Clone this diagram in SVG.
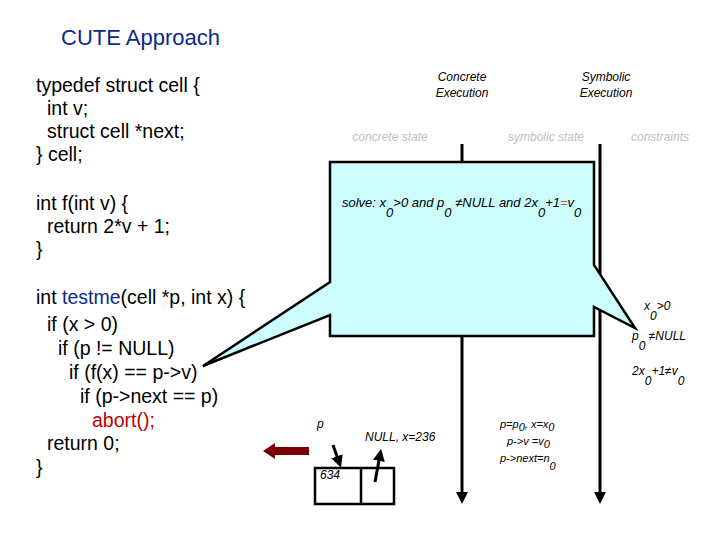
<svg xmlns="http://www.w3.org/2000/svg" width="720" height="540" viewBox="0 0 720 540">
<style>
.code{font-family:"Liberation Sans",Arial,sans-serif;font-size:19.5px;fill:#000}
.red{fill:#c00000}
.blue{fill:#0b2a8a}
.it{font-family:"Liberation Sans",Arial,sans-serif;font-size:12px;font-style:italic;fill:#000}
.big{font-size:13px}
.sm{font-size:11px}
.gray{font-family:"Liberation Sans",Arial,sans-serif;font-size:12px;font-style:italic;fill:#c0c0c0}
.ln{stroke:#000;stroke-width:3;fill:none}
</style>
<defs>
<marker id="ah" markerWidth="4" markerHeight="4" refX="2" refY="2" orient="auto" markerUnits="strokeWidth"><path d="M0,0L4,2L0,4Z" fill="#000"/></marker>
</defs>
<rect width="720" height="540" fill="#fff"/>
<text x="61" y="45" font-family="Liberation Sans,Arial,sans-serif" font-size="22" fill="#0b2a8a">CUTE Approach</text>
<g id="code">
<text class="code" x="36" y="92">typedef struct cell {</text>
<text class="code" x="47" y="115">int v;</text>
<text class="code" x="47" y="138">struct cell *next;</text>
<text class="code" x="36" y="161">} cell;</text>
<text class="code" x="36" y="210">int f(int v) {</text>
<text class="code" x="47" y="233">return 2*v + 1;</text>
<text class="code" x="36" y="256">}</text>
<text class="code" x="36" y="304">int <tspan class="blue">testme</tspan>(cell *p, int x) {</text>
<text class="code" x="47" y="331">if (x &gt; 0)</text>
<text class="code" x="58" y="355">if (p != NULL)</text>
<text class="code" x="69" y="379">if (f(x) == p-&gt;v)</text>
<text class="code" x="80" y="403">if (p-&gt;next == p)</text>
<text class="code" x="92" y="427"><tspan class="red">abort();</tspan></text>
<text class="code" x="47" y="450">return 0;</text>
<text class="code" x="36" y="474">}</text>
</g>
<g id="headers">
<text class="it" x="462" y="81" text-anchor="middle">Concrete</text>
<text class="it" x="462" y="97" text-anchor="middle">Execution</text>
<text class="it" x="606" y="81" text-anchor="middle">Symbolic</text>
<text class="it" x="606" y="97" text-anchor="middle">Execution</text>
<text class="gray" x="390" y="141" text-anchor="middle">concrete state</text>
<text class="gray" x="546" y="141" text-anchor="middle">symbolic state</text>
<text class="gray" x="660" y="141" text-anchor="middle">constraints</text>
</g>
<g id="connectors">
<line class="ln" x1="462" y1="144" x2="462" y2="498" marker-end="url(#ah)"/>
<line class="ln" x1="600" y1="144" x2="600" y2="498" marker-end="url(#ah)"/>
<line x1="333" y1="445" x2="339" y2="462" stroke="#000" stroke-width="3" marker-end="url(#ah)"/>
<line x1="375" y1="482" x2="380" y2="455" stroke="#000" stroke-width="3" marker-end="url(#ah)"/>
<path d="M309,447 H275 V443 L263,451 L275,459 V455 H309 Z" fill="#7a0000"/>
</g>
<g id="callout">
<path d="M330,162 H594 V265 L635,328 L594,307 V336 H330 V315 L203,366 L330,282 Z" fill="#ccfcfc" stroke="#000" stroke-width="2.5"/>
<text class="it big" x="342" y="207">solve: x<tspan dy="10">0</tspan><tspan dy="-10">&gt;0 and p</tspan><tspan dy="10">0</tspan><tspan dy="-10"> ≠NULL and 2x</tspan><tspan dy="10">0</tspan><tspan dy="-10">+1</tspan><tspan fill="#c06060">=</tspan>v<tspan dy="10">0</tspan></text>
</g>
<g id="constraints">
<text class="it" x="644" y="310">x<tspan dy="10">0</tspan><tspan dy="-10">&gt;0</tspan></text>
<text class="it" x="632" y="340">p<tspan dy="10">0</tspan><tspan dy="-10"> ≠NULL</tspan></text>
<text class="it" x="632" y="375">2x<tspan dy="10">0</tspan><tspan dy="-10">+1≠v</tspan><tspan dy="10">0</tspan></text>
</g>
<g id="memory">
<text class="it" x="317" y="428">p</text>
<text class="it" x="365" y="441">NULL, x=236</text>
<rect x="315" y="468" width="79" height="36" fill="none" stroke="#000" stroke-width="2.5"/>
<line x1="361" y1="468" x2="361" y2="504" stroke="#000" stroke-width="2.5"/>
<text class="it" x="320" y="479">634</text>
</g>
<g id="symstate">
<text class="it sm" x="500" y="428">p=p<tspan dy="3">0</tspan><tspan dy="-3">, x=x</tspan><tspan dy="3">0</tspan></text>
<text class="it sm" x="507" y="445">p-&gt;v =v<tspan dy="3">0</tspan></text>
<text class="it sm" x="500" y="462">p-&gt;next=n<tspan dy="8">0</tspan></text>
</g>
</svg>
